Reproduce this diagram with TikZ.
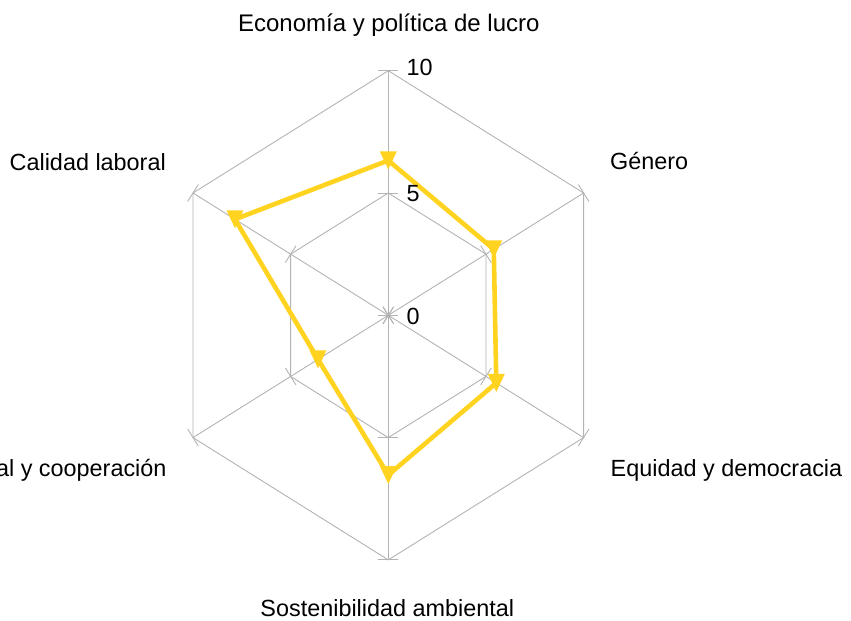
\documentclass[tikz,border=0pt]{standalone}
\usepackage{fontspec}
\setmainfont{Liberation Sans}
\usetikzlibrary{calc}
\definecolor{gridgray}{HTML}{B3B3B3}
\definecolor{serieyellow}{HTML}{FFD320}
\begin{document}
\begin{tikzpicture}[x=1bp,y=-1bp,
  gridline/.style={draw=gridgray,line width=0.9bp},
  series/.style={draw=serieyellow,line width=4.6bp,line join=round},
  lbl/.style={inner sep=0pt,font=\fontsize{23.4bp}{28bp}\selectfont,text=black}]
\useasboundingbox (0,0) rectangle (851,621);
\coordinate (C) at (388.3,315.3);
\coordinate (a10) at ($(C)+(0,-244.6)$);
\coordinate (b10) at ($(C)+(195.3,-122.3)$);
\coordinate (c10) at ($(C)+(195.3,122.3)$);
\coordinate (d10) at ($(C)+(0,244.6)$);
\coordinate (e10) at ($(C)+(-195.3,122.3)$);
\coordinate (f10) at ($(C)+(-195.3,-122.3)$);
\foreach \n in {a,b,c,d,e,f}{\coordinate (\n5) at ($(C)!0.5!(\n10)$);}
% grid
\draw[gridline] (a10)--(b10)--(c10)--(d10)--(e10)--(f10)--cycle;
\draw[gridline] (a5)--(b5)--(c5)--(d5)--(e5)--(f5)--cycle;
\foreach \n in {a,b,c,d,e,f}{
  \draw[gridline] (C)--(\n10);
  \draw[gridline] ($(C)!10bp!90:(\n10)$)--($(C)!10bp!-90:(\n10)$);
  \draw[gridline] ($(\n5)!10bp!90:(\n10)$)--($(\n5)!10bp!-90:(\n10)$);
  \draw[gridline] ($(\n10)!10bp!90:(C)$)--($(\n10)!10bp!-90:(C)$);
}
% data
\coordinate (pa) at ($(C)!0.633!(a10)$);
\coordinate (pb) at ($(C)!0.54!(b10)$);
\coordinate (pc) at ($(C)!0.553!(c10)$);
\coordinate (pd) at ($(C)!0.653!(d10)$);
\coordinate (pe) at ($(C)!0.36!(e10)$);
\coordinate (pf) at ($(C)!0.785!(f10)$);
\draw[series] (pa)--(pb)--(pc)--(pd)--(pe)--(pf)--cycle;
\foreach \p in {pa,pb,pc,pd,pe,pf}{
  \fill[serieyellow] ($(\p)+(-8.5,-9)$)--($(\p)+(8.5,-9)$)--($(\p)+(0,9)$)--cycle;
}
% axis values
\node[lbl,anchor=base west] (v10) at (406.5,76) {10};
\node[lbl,anchor=base west] (v5) at (406.5,201.5) {5};
\node[lbl,anchor=base west] (v0) at (406.5,324.5) {0};
% category labels
\node[lbl,anchor=base,font=\fontsize{24bp}{28bp}\selectfont] (la) at (388.8,31.7) {Economía y política de lucro};
\node[lbl,anchor=base west] (lb) at (610,170) {Género};
\node[lbl,anchor=base west] (lc) at (610.5,476.7) {Equidad y democracia};
\node[lbl,anchor=base] (ld) at (387.3,616.7) {Sostenibilidad ambiental};
\node[lbl,anchor=base east] (le) at (166.7,476.7) {al y cooperación};
\node[lbl,anchor=base east] (lf) at (166,171) {Calidad laboral};
\end{tikzpicture}
\end{document}
